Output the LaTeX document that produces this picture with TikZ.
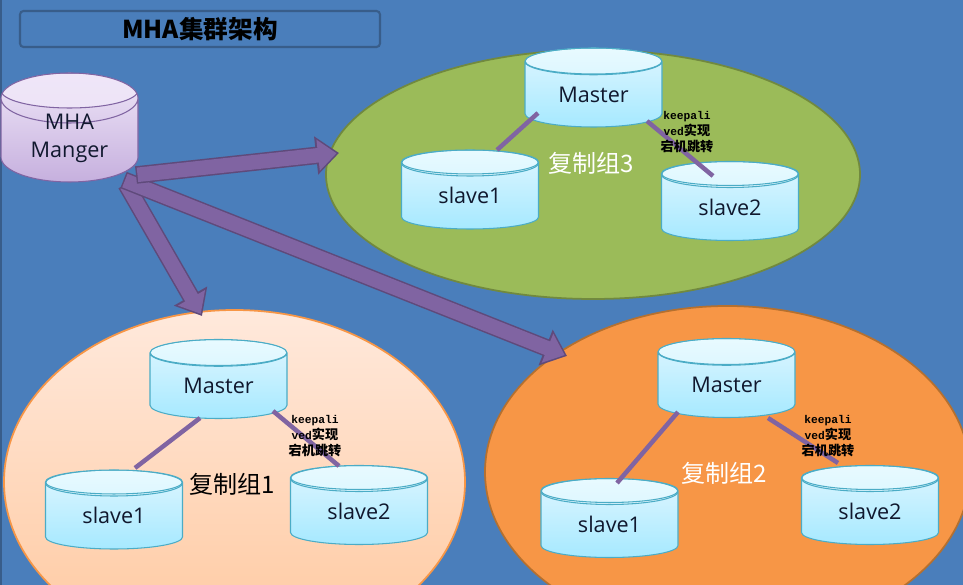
\documentclass[tikz,border=0pt]{standalone}
\usepackage{fontspec}
\setsansfont{Open Sans}
\setmonofont{Liberation Mono}
\newfontfamily\cjkfont{Noto Sans CJK SC}
\usetikzlibrary{positioning, arrows.meta, shapes.geometric}
\definecolor{mhaBack}{HTML}{4A7EBB}
\definecolor{mhaEdge}{HTML}{385D8A}
\definecolor{mhaPurple}{HTML}{8064A2}
\definecolor{mhaPurpleDark}{HTML}{5F4A7B}
\definecolor{mhaCyan}{HTML}{4BACC6}
\definecolor{mhaInk}{HTML}{10182E}
\definecolor{dbTop}{HTML}{DFF6FF}
\definecolor{dbBottom}{HTML}{A6E9FF}
\definecolor{capTop}{HTML}{E8FAFF}
\definecolor{capBottom}{HTML}{C8F1FF}
\definecolor{mgrTop}{HTML}{EFE6F8}
\definecolor{mgrBottom}{HTML}{C6B0DE}
\definecolor{groupGreen}{HTML}{9BBB59}
\definecolor{groupGreenEdge}{HTML}{71893F}
\definecolor{groupOrange}{HTML}{F79646}
\definecolor{groupOrangeEdge}{HTML}{B5702F}
\definecolor{peachTop}{HTML}{FFE9DC}
\definecolor{peachBottom}{HTML}{FFC89E}
\newcommand{\notecjk}[1]{{\cjkfont\bfseries\fontsize{7.5}{9.1}\selectfont #1}}

\begin{document}
\begin{tikzpicture}[
  every node/.style={font=\sffamily\fontsize{12.3}{16}\selectfont, text=mhaInk},
  database/.style={
    cylinder, shape border rotate=90, aspect=0.38, anchor=shape center,
    minimum width=2.74cm, minimum height=1.58cm, inner sep=0pt,
    draw=mhaCyan, line width=0.6pt,
    top color=dbTop, bottom color=dbBottom,
    path picture={
      \draw[draw=mhaCyan, line width=0.6pt, top color=capTop, bottom color=capBottom]
        ([yshift=-0.26cm]path picture bounding box.north) ellipse (1.37cm and 0.26cm);
    }
  },
  manager/.style={
    cylinder, shape border rotate=90, aspect=0.5, anchor=shape center,
    minimum width=2.74cm, minimum height=2.18cm, inner sep=0pt,
    draw=mhaPurple, line width=0.6pt,
    top color=mgrTop, bottom color=mgrBottom,
    path picture={
      \draw[draw=mhaPurple, line width=0.6pt, top color=mgrTop, bottom color=mgrTop!85!mgrBottom]
        ([yshift=-0.35cm]path picture bounding box.north) ellipse (1.37cm and 0.35cm);
    }
  },
  group/.style={ellipse, minimum width=#1, inner sep=0pt, line width=1pt},
  grouplabel/.style={font=\cjkfont\fontsize{13.7}{16}\selectfont, text=#1},
  note/.style={
    align=center, text=black,
    font=\ttfamily\bfseries\fontsize{6.4}{9.1}\selectfont
  },
  link/.style={draw=mhaPurple, line width=0.09cm},
  pipe/.style={
    draw=mhaPurpleDark, line width=0.35cm,
    -{Triangle[length=0.46cm,width=0.74cm]},
    postaction={
      draw=mhaPurple, line width=0.29cm, shorten >=0.05cm, shorten <=0.03cm,
      -{Triangle[length=0.37cm,width=0.60cm]}
    }
  },
]
\useasboundingbox (0,0) rectangle (19.26,11.7);
\clip (0,0) rectangle (19.26,11.7);

% background
\fill[mhaBack] (0,0) rectangle (19.26,11.7);
\fill[mhaEdge] (0,0) rectangle (0.04,11.7);

% title
\node[draw=mhaEdge, line width=1.2pt, rounded corners=2pt, minimum width=7.2cm, minimum height=0.72cm,
  text=black, font=\cjkfont\bfseries\fontsize{14}{16}\selectfont] (title) at (4,11.12) {MHA集群架构};

% replication groups
\node[group=10.68cm, minimum height=4.98cm, draw=groupGreenEdge, fill=groupGreen] (g3) at (11.86,8.21) {};
\node[group=9.22cm, minimum height=6.88cm, draw=groupOrange, top color=peachTop, bottom color=peachBottom] (g1) at (4.69,2.06) {};
\node[group=9.7cm, minimum height=6.64cm, draw=groupOrangeEdge, fill=groupOrange] (g2) at (14.55,2.26) {};

% manager
\node[manager] (mgr) at (1.39,9.15) {\raisebox{-1.7pt}[0pt][0pt]{\parbox[c]{2cm}{\centering MHA\\Manger}}};

% group 3
\node[database] (m3) at (11.87,9.95) {Master};
\node[database] (s31) at (9.40,7.91) {slave1};
\node[database] (s32) at (14.60,7.68) {slave2};
% group 1
\node[database] (m1) at (4.37,4.12) {Master};
\node[database] (s11) at (2.28,1.51) {slave1};
\node[database] (s12) at (7.18,1.60) {slave2};
% group 2
\node[database] (m2) at (14.53,4.14) {Master};
\node[database] (s21) at (12.19,1.34) {slave1};
\node[database] (s22) at (17.40,1.60) {slave2};

% replication links
\draw[link] ([shift={(-1.11,-0.51)}]m3.shape center) -- ([shift={(0.54,0.79)}]s31.shape center);
\draw[link] ([shift={(1.07,-0.67)}]m3.shape center) -- ([shift={(-0.34,0.50)}]s32.shape center);
\draw[link] ([shift={(-0.37,-0.78)}]m1.shape center) -- ([shift={(0.42,0.83)}]s11.shape center);
\draw[link] ([shift={(1.09,-0.64)}]m1.shape center) -- ([shift={(-0.40,0.78)}]s12.shape center);
\draw[link] ([shift={(-0.97,-0.68)}]m2.shape center) -- ([shift={(0.15,0.70)}]s21.shape center);
\draw[link] ([shift={(0.83,-0.80)}]m2.shape center) -- ([shift={(-0.64,0.84)}]s22.shape center);

% labels
\node[grouplabel=black] (l1) at (4.64,2.02) {复制组1};
\node[grouplabel=white] (l2) at (14.48,2.24) {复制组2};
\node[grouplabel=white] (l3) at (11.82,8.44) {复制组3};
\node[note] (n3) at (13.74,9.06) {keepali\\ved\notecjk{实现}\\\notecjk{宕机跳转}};
\node[note] (n1) at (6.30,2.98) {keepali\\ved\notecjk{实现}\\\notecjk{宕机跳转}};
\node[note] (n2) at (16.56,2.98) {keepali\\ved\notecjk{实现}\\\notecjk{宕机跳转}};

% manager arrows
\draw[pipe] ([shift={(1.13,-1.13)}]mgr.shape center) -- ([shift={(-0.65,3.32)}]g1.center);
\draw[pipe] ([shift={(1.08,-1.05)}]mgr.shape center) -- ([shift={(-3.21,2.32)}]g2.center);
\draw[pipe] ([shift={(1.33,-0.95)}]mgr.shape center) -- ([shift={(-5.08,0.43)}]g3.center);

\end{tikzpicture}
\end{document}
